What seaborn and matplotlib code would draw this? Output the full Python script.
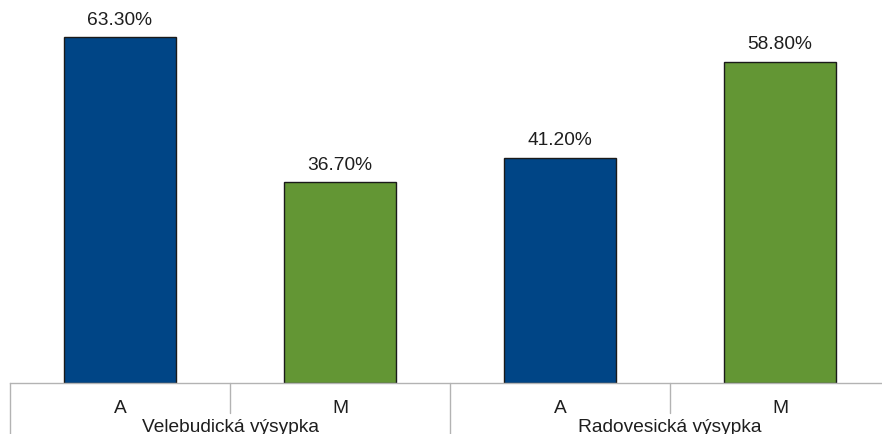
import matplotlib
matplotlib.use("Agg")
import matplotlib.pyplot as plt
import matplotlib.transforms as mtransforms
import seaborn as sns
import pandas as pd

# Data
groups = ["Velebudická výsypka", "Velebudická výsypka", "Radovesická výsypka", "Radovesická výsypka"]
categories = ["A", "M", "A", "M"]
values = [63.3, 36.7, 41.2, 58.8]
bar_colors = ["#004586", "#639634", "#004586", "#639634"]

sns.set_theme(style="white")
plt.rcParams["font.family"] = ["Liberation Sans", "DejaVu Sans"]

FS = 13.8
keys = [f"{g}|{c}" for g, c in zip(groups, categories)]
df = pd.DataFrame({"key": keys, "value": values})

fig = plt.figure(figsize=(8.82, 4.34), dpi=100)
W, H = 882, 434
ax = fig.add_axes([10 / W, 51 / H, 880 / W, 383 / H])

sns.barplot(data=df, x="key", y="value", order=keys, hue="key", palette=bar_colors,
            legend=False, width=0.51, edgecolor="#1a1a1a", linewidth=1.0, ax=ax,
            saturation=1)

ax.set_xlim(-0.5, len(keys) - 0.5)
ax.set_ylim(0, 70.07)
ax.set_xlabel("")
ax.set_ylabel("")
ax.set_yticks([])
ax.set_xticks(range(len(keys)))
ax.set_xticklabels(categories, fontsize=FS, color="#1e1e1e")
ax.tick_params(axis="x", length=0, pad=12)
for s in ["top", "right", "left"]:
    ax.spines[s].set_visible(False)
ax.spines["bottom"].set_color("#b3b3b3")
ax.spines["bottom"].set_linewidth(1.0)

# value labels
for i, v in enumerate(values):
    ax.annotate(f"{v:.2f}%", (i, v), xytext=(0, 6), textcoords="offset points",
                ha="center", va="bottom", fontsize=FS, color="#1e1e1e")

# category separators below the axis
trans = mtransforms.blended_transform_factory(ax.transData, ax.transAxes)
axes_px = 383.0
for xpos, depth in [(-0.5, 51), (0.5, 30), (1.5, 51), (2.5, 30)]:
    ax.plot([xpos, xpos], [0, -depth / axes_px], transform=trans, color="#b3b3b3",
            linewidth=1.0, clip_on=False)

# group labels
seen = []
for i, g in enumerate(groups):
    if g in seen:
        continue
    seen.append(g)
    idx = [j for j, gg in enumerate(groups) if gg == g]
    center = sum(idx) / len(idx)
    ax.text(center, -44 / axes_px, g, transform=trans, ha="center", va="center",
            fontsize=FS, color="#1e1e1e")

fig.savefig("out.png", dpi=100)
